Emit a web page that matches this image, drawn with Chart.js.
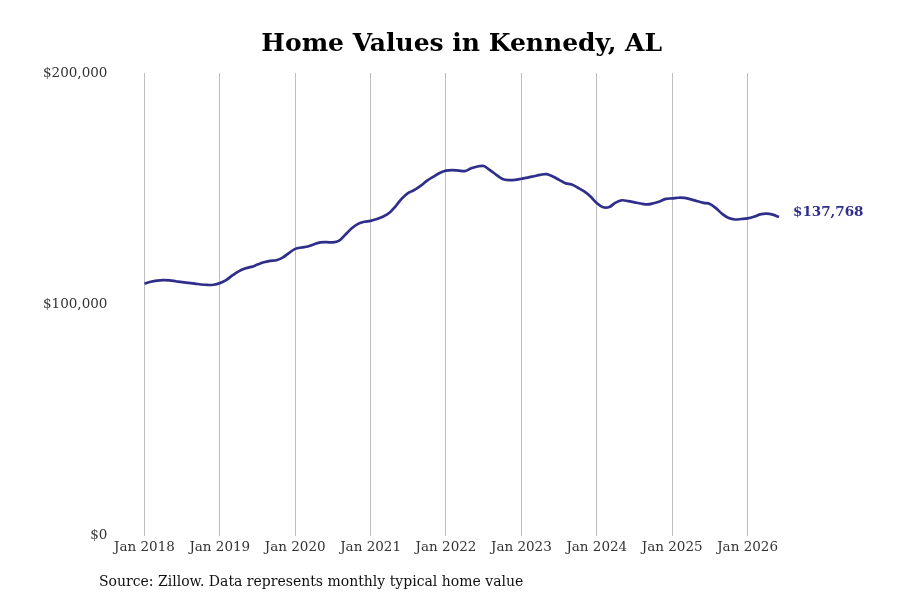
<!DOCTYPE html>
<html>
<head>
<meta charset="utf-8">
<script src="https://cdn.jsdelivr.net/npm/chart.js@4"></script>
<style>
  body { margin: 0; background: #fff; }
</style>
</head>
<body>
<canvas id="home-values" width="900" height="600"></canvas>
<script>
const years = [2018, 2019, 2020, 2021, 2022, 2023, 2024, 2025, 2026];
const monthNames = ["Jan", "Feb", "Mar", "Apr", "May", "Jun", "Jul", "Aug", "Sep", "Oct", "Nov", "Dec"];

// typical home value, thousands of dollars, Jan 2018 - Jun 2026
const values2018 = [109.0, 109.8, 110.3, 110.5, 110.4, 110.0, 109.6, 109.3, 109.0, 108.6, 108.4, 108.5];
const values2019 = [109.2, 110.5, 112.5, 114.3, 115.5, 116.2, 117.2, 118.2, 118.8, 119.1, 120.2, 122.2];
const values2020 = [124.0, 124.6, 125.0, 126.0, 126.8, 126.9, 126.8, 127.6, 130.2, 132.9, 134.8, 135.7];
const values2021 = [136.1, 136.9, 138.0, 139.6, 142.5, 145.8, 148.2, 149.5, 151.3, 153.5, 155.2, 156.8];
const values2022 = [157.8, 158.0, 157.8, 157.6, 158.8, 159.6, 159.8, 158.0, 156.0, 154.2, 153.7, 153.8];
const values2023 = [154.3, 154.8, 155.4, 156.0, 156.3, 155.3, 153.8, 152.4, 151.8, 150.4, 148.8, 146.6];
const values2024 = [143.8, 142.0, 142.1, 144.0, 145.0, 144.6, 144.1, 143.6, 143.2, 143.7, 144.5, 145.6];
const values2025 = [145.8, 146.1, 146.0, 145.4, 144.6, 143.9, 143.4, 141.5, 139.0, 137.3, 136.7, 136.9];
const values2026 = [137.2, 137.9, 138.9, 139.2, 138.8, 137.768];

const yTicks = [0, 100000, 200000];
const lastLabel = "$137,768";
const sourceText = "Source: Zillow. Data represents monthly typical home value";

const lineColor = '#2f2e8b';
const serif = "'DejaVu Serif', serif";

const allValues = [].concat(values2018, values2019, values2020, values2021, values2022,
    values2023, values2024, values2025, values2026).map(v => Math.round(v * 1000));

const labels = [];
years.forEach(y => monthNames.forEach(m => labels.push(`${m} ${y}`)));
labels.length = allValues.length;

const endLabel = {
    id: 'endLabel',
    afterDatasetsDraw(chart) {
        const meta = chart.getDatasetMeta(0);
        const pt = meta.data[meta.data.length - 1];
        const ctx = chart.ctx;
        ctx.save();
        ctx.font = `bold 13.5px ${serif}`;
        ctx.fillStyle = lineColor;
        ctx.textBaseline = 'middle';
        ctx.fillText(lastLabel, pt.x + 14, pt.y - 5);
        ctx.restore();
    }
};

const sourceNote = {
    id: 'sourceNote',
    afterDraw(chart) {
        const ctx = chart.ctx;
        ctx.save();
        ctx.font = `14px ${serif}`;
        ctx.fillStyle = '#111';
        ctx.textBaseline = 'middle';
        ctx.fillText(sourceText, 99, 582);
        ctx.restore();
    }
};

new Chart(document.getElementById('home-values'), {
    type: 'line',
    data: {
        labels: labels,
        datasets: [{
            data: allValues,
            borderColor: lineColor,
            borderWidth: 2.7,
            pointRadius: 0,
            tension: 0.35,
            fill: false
        }]
    },
    options: {
        responsive: false,
        devicePixelRatio: 1,
        animation: false,
        layout: { padding: { left: 6, right: 121, top: 0, bottom: 40 } },
        plugins: {
            legend: { display: false },
            tooltip: { enabled: false },
            title: {
                display: true,
                fullSize: false,
                text: 'Home Values in Kennedy, AL',
                color: '#000',
                font: { family: serif, size: 25, weight: 'bold' },
                padding: { top: 29, bottom: 14 }
            }
        },
        scales: {
            x: {
                type: 'category',
                offset: false,
                border: { display: false },
                grid: {
                    drawTicks: false,
                    color: '#bdbdbd'
                },
                ticks: {
                    autoSkip: false,
                    maxRotation: 0,
                    padding: 4,
                    color: '#333',
                    font: { family: serif, size: 13.5 },
                    callback: function (val, i) {
                        return i % 12 === 0 ? labels[i] : null;
                    }
                }
            },
            y: {
                min: 0,
                max: 200000,
                border: { display: false },
                grid: { display: false, drawTicks: false },
                afterBuildTicks: scale => { scale.ticks = yTicks.map(v => ({ value: v })); },
                ticks: {
                    padding: 37,
                    color: '#333',
                    font: { family: serif, size: 13.5 },
                    callback: v => '$' + v.toLocaleString('en-US')
                }
            }
        }
    },
    plugins: [endLabel, sourceNote]
});
</script>
</body>
</html>
